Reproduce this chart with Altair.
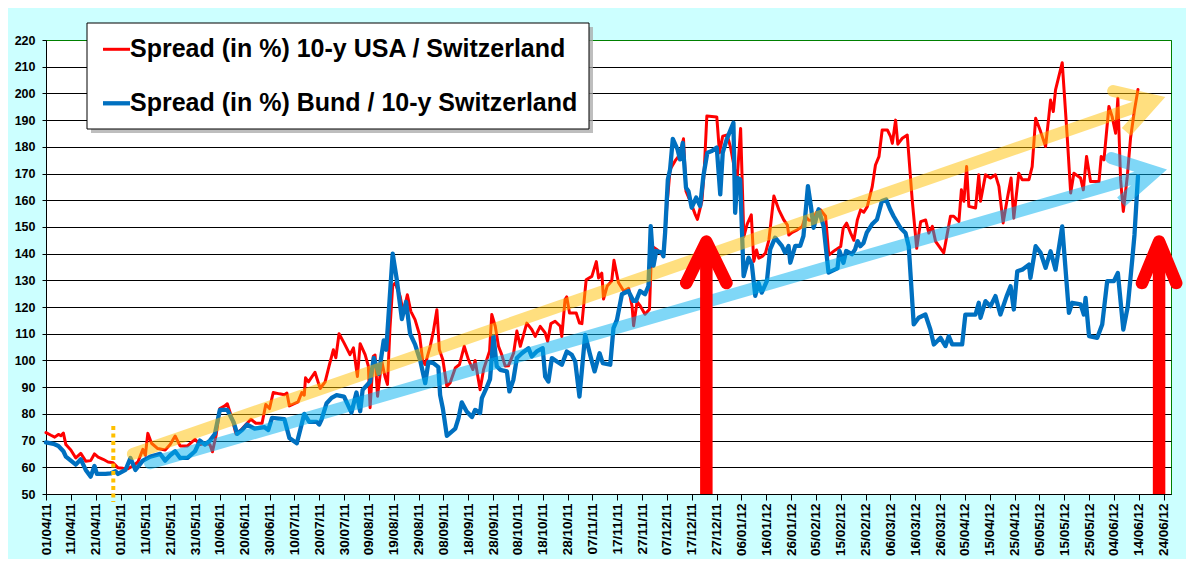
import altair as alt
import pandas as pd

# ---------------- data (day offsets from START, values in %) ----------------
START = "2011-04-01"
DOMAIN_DAYS = 453

RED_DAY = [0, 2, 3.5, 5, 6, 7, 8, 10, 12, 14, 16, 18, 19.5, 21, 23, 25, 27, 29, 31, 33,
           35, 37, 39, 40, 41, 42.5, 45, 48, 50, 52, 54, 57, 60, 62, 64, 66, 67, 68.5, 70, 72,
           73, 75, 76.5, 78.5, 80.5, 82.5, 84.5, 87, 88.5, 90, 91.5, 94, 96, 97, 98, 101.5, 103, 104, 104.5, 105.7,
           108.3, 110.4, 112.4, 114, 115.7, 116.7, 118, 120, 122.4, 123.8, 125.4, 126.5, 128.5, 129.8, 130.5, 131.8, 132.5, 133.5, 135.2, 136.5,
           137.5, 138.5, 139.6, 140.6, 142.6, 143.9, 145.5, 146.9, 148.6, 150.4, 151.7, 152.7, 154.7, 156, 157.4, 158.4, 159.8, 161.4, 162.7, 164.8,
           166.5, 168.4, 170.1, 171.9, 172.8, 174.8, 176.2, 178.6, 179.5, 180.9, 182.2, 183.5, 184.9, 186.2, 188.3, 189.6, 191, 193.6, 195.6, 197,
           199, 201, 202, 203.3, 205, 207.1, 207.7, 209, 209.7, 210.8, 213.5, 214.8, 215.8, 217.5, 219.8, 221.6, 222.5, 223.8, 224.5, 226,
           227.8, 228.7, 230.5, 232.6, 234.6, 236, 236.6, 238, 239.3, 241.2, 243, 243.9, 245.9, 248.6, 250, 251.3, 253.3, 255.3, 256.7, 257.7,
           259.4, 261.4, 262.3, 264.1, 265, 266.1, 270.1, 271.2, 272.5, 274.3, 275.6, 277.6, 278.3, 279.7, 281, 282.3, 284, 285, 286.1, 287,
           288.4, 289.7, 291.1, 293.1, 295.1, 297.1, 298.5, 299.1, 300.5, 302.5, 304.5, 305.8, 307.2, 308.5, 310.5, 311.9, 313.9, 315.2, 317.9, 320,
           321, 322.4, 324, 325.3, 326.7, 328, 329.3, 330.7, 332.7, 334, 335.4, 336.7, 338.8, 340.1, 340.8, 342.1, 343, 344.8, 346.8, 348.8,
           350.6, 352.2, 354.2, 355.5, 356.9, 358.2, 360.2, 361.5, 364.2, 365.5, 367.6, 368.6, 369.6, 370.7, 371.6, 374.3, 375.6, 376.3, 378.3, 380.3,
           382.3, 383.7, 385.4, 387, 388.6, 389.7, 391.7, 393.1, 395.8, 397.1, 398.5, 400.5, 402.5, 403.8, 404.5, 405.6, 406.5, 409.2, 411.2, 412.6,
           413.9, 416.6, 417.7, 419, 420.6, 424, 424.9, 426, 428, 429.3, 430.7, 431.6, 432.7, 433.8, 435.4, 436.7, 438.3, 439.7]
RED_VAL = [73, 72, 71.3, 72.3, 71.8, 72.8, 68.5, 66.5, 63.5, 65.2, 62.3, 62.5, 65, 63.8, 63, 62, 61.7, 59.8, 59.6, 59.5,
           60.5, 62, 66.7, 64.5, 72.7, 69, 67, 66.5, 68.5, 71.7, 68, 68, 70.5, 68.5, 69, 68.5, 65.8, 72, 82, 83,
           83.8, 78, 72.5, 74, 76, 78, 76.5, 76.5, 83.5, 82, 88, 87.5, 87.2, 87.8, 83, 84.5, 88, 87, 93.5, 92,
           95.6, 89.5, 92, 98, 104, 101, 110, 106.6, 102.2, 104.7, 94, 106.3, 102.2, 97.9, 82.3, 101.6, 102, 86.6, 99.7, 94,
           91, 112, 128, 129, 124, 117.8, 124.6, 118.4, 115.3, 109.7, 99.7, 98.5, 105.3, 111, 119, 104, 100.3, 90.4, 91.6, 97.2,
           98.5, 105.3, 100.3, 96.6, 100, 89, 96.6, 103.5, 117.2, 112.8, 105.3, 102.2, 97.9, 98, 102.8, 111, 105.3, 114, 111.6, 109,
           112.8, 110.3, 107.2, 113.8, 114.7, 112.8, 109, 122.8, 123.8, 117.8, 117.8, 114, 113.8, 130.2, 131.5, 137, 130.9, 132.7, 123, 127.9,
           129.8, 137.5, 129.2, 126, 127, 120.3, 113, 122, 120.4, 117.3, 119.2, 142.9, 141.6, 139.1, 157.8, 171.5, 174.7, 177.2, 183, 163.4,
           159.7, 154.7, 152.8, 159.7, 170.3, 191.5, 191.2, 177.8, 184, 184.4, 180, 170, 168, 186.9, 146.4, 151, 154.5, 137.1, 141.4, 138.3,
           139, 140.2, 145.2, 161.6, 156.4, 152.6, 150.8, 147, 148, 148.9, 150.2, 153.9, 152.5, 152.6, 155.8, 156.4, 154, 139.5, 141.4, 142.7,
           149.5, 151.4, 147.7, 145, 152.6, 156.4, 155.5, 157.6, 165.1, 173.2, 176.3, 186.3, 186.3, 183.8, 181.3, 190, 181, 183.2, 184.4, 160,
           142, 152, 152.6, 147.7, 150.2, 144.6, 142, 140.3, 154, 154, 152.1, 163.9, 159.6, 172.6, 157.7, 157.1, 169.5, 159.6, 169.5, 168.3,
           169.5, 165.2, 151.5, 160.2, 168.3, 153.3, 170.1, 167.7, 167.7, 172.6, 190.7, 185.7, 180.1, 191.3, 197.5, 193.2, 201.3, 211.5, 183.9, 162.7,
           170.1, 168.3, 163.9, 176.4, 167, 167, 176.4, 175.1, 195.1, 191.3, 185.1, 198.2, 167.7, 155.8, 168.9, 183.2, 193.8, 201.5]

BLUE_DAY = [0, 3, 5, 7, 8, 10, 12, 14, 16, 18, 19.5, 20.5, 24, 26, 28, 29, 32, 34, 36, 39,
            42, 46, 48, 50, 52, 54, 57, 60, 62, 64, 66, 68, 70, 73, 75.5, 77, 79, 81, 84, 88,
            89.5, 91, 96, 98, 101, 104, 106, 109, 110, 111, 113, 115, 117, 120, 123, 125, 126.5, 127.5, 130.5, 132,
            134, 136, 137, 139.6, 141.3, 143.3, 145, 146.6, 148.6, 150.7, 152.7, 154, 156, 158, 158.7, 159.8, 161.4, 164.8, 166.1, 167.4,
            169.4, 171.5, 172.8, 174.8, 175.5, 177.5, 178.8, 180.2, 181.5, 182.9, 185.6, 186.6, 188.2, 189.6, 191.6, 194.3, 195.6, 197.6, 200, 201,
            202.3, 203.7, 205.7, 207.7, 209.7, 211.7, 213.1, 214.8, 217.1, 219.1, 220.9, 222.9, 224.2, 227.2, 228.5, 229.9, 231.9, 234.5, 236.5, 237.6,
            239.2, 241.2, 242.6, 243.5, 244.6, 245.7, 248, 248.6, 249.3, 250.4, 251.3, 252.4, 254.3, 255.3, 256.4, 257.7, 258.7, 260, 261.8, 263.4,
            264.7, 266.3, 268.1, 270.1, 271.5, 272.5, 274.1, 276.8, 277.5, 278.4, 279.5, 280.9, 282.9, 284.2, 285.6, 286.9, 288.2, 290.3, 291.6, 293.6,
            296.3, 297.6, 299, 299.7, 301.7, 303.7, 305, 306.8, 308, 309.1, 311.1, 313.1, 315.1, 317.8, 318.7, 319.5, 321.1, 322.2, 324.5, 325.8,
            326.8, 327.9, 329.2, 330.5, 332.6, 334.6, 336.6, 338.3, 339.9, 341.3, 344.1, 346.1, 347.4, 349.4, 351.4, 354.1, 356.1, 357.5, 360.2, 362.2,
            363.5, 364.9, 368.9, 370.2, 374.3, 375.6, 376.3, 378.3, 380.3, 382.3, 384.3, 386.8, 388.4, 389.7, 391.1, 393.1, 395.8, 396.4, 398.5, 400.5,
            402.5, 404.5, 406.5, 409.2, 411.9, 413.2, 416.6, 417.9, 418.6, 420, 423.3, 425.3, 427.3, 430, 431.6, 433.8, 435.6, 437.4, 438.3, 439.7]
BLUE_VAL = [69.3, 68.8, 68, 66, 64, 62.5, 61, 63, 59, 56.5, 60.5, 57.5, 57.5, 57.7, 58.5, 57.5, 59, 63.5, 59, 62.5,
            64, 65, 62.5, 64.5, 66, 63.5, 63.5, 66, 70, 68.5, 70, 72.5, 81.5, 81.5, 77, 72.5, 74, 76, 74.5, 75,
            74, 78.5, 78, 71, 69, 80, 77, 77, 76, 78, 84, 86, 87, 86.5, 80.5, 88, 81, 89, 92, 101,
            95, 107.5, 104, 140, 130, 115.5, 122, 110, 106, 100, 91.5, 99.5, 99, 97.5, 87, 82, 71.8, 74.5, 78.4, 84.3,
            80.9, 78.8, 81.5, 80.3, 85.9, 90, 93, 109, 97.8, 96.5, 95.9, 88.4, 92.8, 100.9, 102.7, 104.6, 101.5, 103.4, 104.6, 94,
            92.1, 100.9, 99.6, 98.4, 103.4, 102.1, 99.6, 86.5, 109.6, 102.1, 95.9, 102.7, 99, 98.4, 112.1, 115.2, 124.8, 126, 122.3, 122.3,
            126, 124.8, 127.9, 150.3, 135.4, 141, 140.4, 139, 147.9, 167.8, 171.5, 183, 179, 175.3, 181.5, 164.7, 163.4, 157.2, 161, 157.8,
            169, 177.8, 178.4, 179.7, 162.2, 177.8, 182.8, 189, 155.3, 168.4, 167.8, 131.6, 138.5, 136, 124.2, 129, 125.4, 129.8, 141.6, 146,
            142.9, 140.4, 142.9, 136.6, 142.9, 142.9, 146.6, 165.3, 157.8, 149.7, 156.6, 150.3, 132.9, 134.1, 134.5, 141, 136.6, 141, 139.8, 141.6,
            144.7, 142.8, 144, 147.9, 151, 152.8, 159.7, 160.3, 156.6, 154, 149.6, 147.7, 142.8, 113.5, 116, 117.2, 111.6, 106, 108.5, 105.4,
            109.1, 106, 106, 117.2, 117.2, 121.6, 116, 122.2, 120.3, 124.1, 117.2, 124, 127.8, 119.1, 133.4, 134, 135.9, 130.9, 142.8, 140.3,
            134.7, 140.9, 134, 150.2, 117.8, 121.6, 121, 117.2, 123.4, 109.1, 108.5, 113.5, 129.7, 129.7, 132.8, 111.6, 120.3, 137.8, 147.1, 168.9]

# trend arrows (day offset, value): start of shaft, arrow vertex, the two head arm ends
YEL_START = (35.0, 65.0)
YEL_VERTEX = (446.2, 197.3)
YEL_ARM1 = (429.7, 200.9)
YEL_ARM2 = (435.0, 185.6)
CYAN_START = (41.9, 61.5)
CYAN_VERTEX = (446.6, 170.6)
CYAN_ARM1 = (428.9, 175.8)
CYAN_ARM2 = (432.9, 159.3)

# red vertical arrows
RED_ARROW_DAY = [265.9, 448.2]
RED_ARROW_TIP = [144.5, 144.5]
RED_ARROW_BASE = [50, 50]
RED_HEAD_LEFT_DAY = [257.8, 441.3]
RED_HEAD_RIGHT_DAY = [274.0, 455.1]
RED_HEAD_VAL = [129.0, 129.0]

# dotted marker line
DOT_DAY = [27.1]
DOT_TOP = [75.5]
DOT_BOTTOM = [47.0]

Y_TICKS = [50, 60, 70, 80, 90, 100, 110, 120, 130, 140, 150, 160, 170, 180, 190, 200, 210, 220]
X_TICK_DAYS = list(range(0, 451, 10))

LEGEND_LABELS = ["Spread (in %) 10-y USA / Switzerland",
                 "Spread (in %) Bund / 10-y Switzerland"]
COLORS = ["#ff0000", "#0070c0"]

# ---------------- helpers ----------------
t0 = pd.Timestamp(START, tz="UTC")


def ms(d):
    return int((t0 + pd.Timedelta(days=float(d))).value // 10**6)


FONT = "Liberation Sans"

x_scale = alt.Scale(type="utc", domain=[ms(0), ms(DOMAIN_DAYS)])
y_scale = alt.Scale(domain=[50, 220], nice=False, zero=False)

x_axis = alt.Axis(values=[ms(d) for d in X_TICK_DAYS],
                  labelExpr="utcFormat(datum.value, '%d/%m/%y')",
                  labelAngle=270, labelFont=FONT, labelFontSize=13.5, labelFontWeight="bold",
                  labelColor="black", labelPadding=3, labelOverlap=False, labelFlush=False,
                  labelBound=False, tickSize=6, tickColor="black", tickWidth=1,
                  domainColor="black", domainWidth=1, grid=False, title=None)
y_axis = alt.Axis(values=Y_TICKS, labelFont=FONT, labelFontSize=12.5, labelFontWeight="bold",
                  labelColor="black", labelPadding=7, tickSize=4, tickColor="black",
                  domainColor="black", domainWidth=1, grid=True, gridWidth=1,
                  gridColor=alt.condition("datum.value === 220", alt.value("#008000"), alt.value("black")),
                  title=None)

X = alt.X("t:T", scale=x_scale, axis=x_axis, title=None)
Y = alt.Y("v:Q", scale=y_scale, axis=y_axis, title=None)

df_red = pd.DataFrame({"t": [ms(d) for d in RED_DAY], "v": RED_VAL})
df_blue = pd.DataFrame({"t": [ms(d) for d in BLUE_DAY], "v": BLUE_VAL})

red_line = alt.Chart(df_red).mark_line(color=COLORS[0], strokeWidth=3, strokeJoin="round",
                                       strokeCap="round").encode(x=X, y=Y)
blue_line = alt.Chart(df_blue).mark_line(color=COLORS[1], strokeWidth=4.3, strokeJoin="round",
                                         strokeCap="round").encode(x=X, y=Y)


def arrow_df(start, vertex, arm1, arm2):
    # one single path so the translucent band does not darken where parts overlap
    pts = [arm1, vertex, arm2, vertex, start]
    return pd.DataFrame({"t": [ms(p[0]) for p in pts], "v": [p[1] for p in pts],
                         "i": list(range(len(pts)))})


def band_arrow(df, color):
    return alt.Chart(df).mark_line(color=color, strokeWidth=12, opacity=0.5, strokeCap="round",
                                   strokeJoin="miter", strokeMiterLimit=2.4).encode(
        x=X, y=Y, order="i:Q")


yel = band_arrow(arrow_df(YEL_START, YEL_VERTEX, YEL_ARM1, YEL_ARM2), "#ffc000")
cyan = band_arrow(arrow_df(CYAN_START, CYAN_VERTEX, CYAN_ARM1, CYAN_ARM2), "#00b0f0")

df_shaft = pd.DataFrame({"t": [ms(d) for d in RED_ARROW_DAY], "v": RED_ARROW_BASE, "v2": RED_ARROW_TIP})
red_shaft = alt.Chart(df_shaft).mark_rule(color="#ff0000", strokeWidth=12.5, strokeCap="butt").encode(
    x=X, y=Y, y2=alt.Y2("v2:Q"))

head_rows = []
for k in range(len(RED_ARROW_DAY)):
    pts = [(RED_HEAD_LEFT_DAY[k], RED_HEAD_VAL[k]), (RED_ARROW_DAY[k], RED_ARROW_TIP[k]),
           (RED_HEAD_RIGHT_DAY[k], RED_HEAD_VAL[k])]
    for i, (d, v) in enumerate(pts):
        head_rows.append({"t": ms(d), "v": v, "arrow": k, "i": i})
red_heads = alt.Chart(pd.DataFrame(head_rows)).mark_line(
    color="#ff0000", strokeWidth=12.5, strokeCap="round", strokeJoin="round").encode(
    x=X, y=Y, detail="arrow:N", order="i:Q")

df_dot = pd.DataFrame({"t": [ms(d) for d in DOT_DAY], "v": DOT_TOP, "v2": DOT_BOTTOM})
dotted = alt.Chart(df_dot).mark_rule(color="#ffc000", strokeWidth=4, strokeDash=[4, 3.5]).encode(
    x=X, y=Y, y2=alt.Y2("v2:Q"))

# ---------------- legend box ----------------
one = pd.DataFrame({"a": [0]})
shadow = alt.Chart(one).mark_rect(fill="#a8a8a8", opacity=0.75).encode(
    x=alt.value(45), x2=alt.value(547), y=alt.value(-13), y2=alt.value(93))
box = alt.Chart(one).mark_rect(fill="white", stroke="black", strokeWidth=1).encode(
    x=alt.value(41), x2=alt.value(543), y=alt.value(-17), y2=alt.value(89))
sw1 = alt.Chart(one).mark_rule(color=COLORS[0], strokeWidth=3).encode(
    x=alt.value(57), x2=alt.value(84), y=alt.value(9.3))
sw2 = alt.Chart(one).mark_rule(color=COLORS[1], strokeWidth=4.3).encode(
    x=alt.value(57), x2=alt.value(84), y=alt.value(63.3))
txt1 = alt.Chart(pd.DataFrame({"label": [LEGEND_LABELS[0]]})).mark_text(
    font=FONT, fontSize=25, fontWeight="bold", align="left", baseline="alphabetic", color="black").encode(
    x=alt.value(84), y=alt.value(17), text="label:N")
txt2 = alt.Chart(pd.DataFrame({"label": [LEGEND_LABELS[1]]})).mark_text(
    font=FONT, fontSize=25, fontWeight="bold", align="left", baseline="alphabetic", color="black").encode(
    x=alt.value(84), y=alt.value(71.3), text="label:N")

chart = alt.layer(
    red_line, blue_line, yel, cyan, dotted, red_shaft, red_heads,
    shadow, box, sw1, sw2, txt1, txt2
).properties(
    width=1125, height=454,
    autosize=alt.AutoSizeParams(type="none"),
    padding={"left": 38, "top": 32, "right": 15, "bottom": 65},
).configure(
    background="#ccffff", font=FONT
).configure_view(
    fill="white", stroke="#008000", strokeWidth=1
)

chart.save("out.html", embed_options={"renderer": "svg", "actions": False})
